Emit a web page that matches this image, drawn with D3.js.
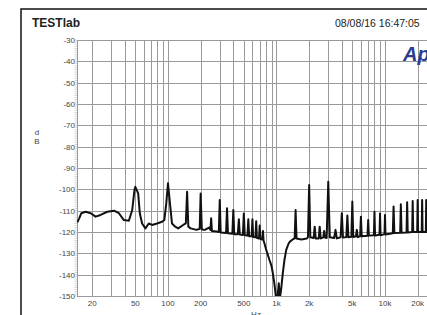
<!DOCTYPE html>
<html>
  <head>
    <meta charset="utf-8">
    <title>TESTlab FFT</title>
    <style>
      body {
        margin: 0;
        background-color: white;
        overflow: hidden;
      }
      svg text {
        font-family: "Liberation Sans", Arial, sans-serif;
      }
      .grid line {
        stroke: #9a9a9a;
        stroke-width: 1;
        shape-rendering: crispEdges;
      }
      .tick-label {
        font-size: 8px;
        fill: #444;
      }
    </style>
  </head>
  <body>
  <svg class="chart"></svg>
  <script src="https://d3js.org/d3.v7.min.js"></script>
  <script>

  // trace: frequency (Hz) and level (dB)
  var freqHz = [14.6, 15.2, 15.9, 17.4, 19.4, 21.5, 23.9, 27.6, 31.8, 35.3, 39.2, 43.6, 46.8, 49.1, 50, 53.1, 55, 57.7, 61.9, 66.5,
    71.3, 79.2, 88.1, 92.5, 96.4, 100, 105, 108.8, 116.6, 124.3, 138, 146, 150, 154, 161.5, 183.3, 196, 200, 205, 218.5,
    239, 246, 250, 254, 280, 294, 300, 306, 343, 350, 357, 392, 400, 408, 440, 450, 459, 490, 500, 510,
    540, 550, 560, 590, 600, 610, 640, 650, 660, 690, 700, 710, 740, 750, 760, 776, 800, 830, 860, 895,
    923, 955, 975, 990, 1020, 1050, 1075, 1103, 1143, 1185, 1230, 1290, 1330, 1410, 1470, 1500, 1530, 1700, 1900, 1950,
    2000, 2050, 2200, 2250, 2300, 2450, 2500, 2560, 2700, 2750, 2800, 2900, 3000, 3100, 3400, 3500, 3600, 3900, 4000, 4100,
    4400, 4500, 4600, 4900, 5000, 5100, 5400, 5500, 5600, 5900, 6000, 6100, 6900, 7000, 7100, 7900, 8000, 8100, 8900, 9000,
    9100, 9900, 10000, 10100, 11800, 12000, 12200, 13800, 14000, 14200, 15800, 16000, 16200, 17800, 18000, 18200, 19800, 20000, 20200, 21800,
    22000, 22200, 23800, 24000, 24200, 27000];

  var levelDb = [-115.5, -113.6, -111.2, -110.5, -111.2, -112.8, -112.0, -110.5, -110.0, -111.2, -114.4, -114.7, -109.7, -100.3, -98.8, -101.9, -111.2, -116.0, -118.3, -116.0,
    -116.7, -116.0, -115.2, -114.4, -106.6, -97.2, -108.1, -116.0, -117.5, -118.3, -116.7, -116.0, -101.1, -117.5, -118.3, -119.0, -118.5, -101.9, -118.8, -119.0,
    -117.9, -119.0, -113.6, -119.5, -119.8, -120.0, -105.0, -120.2, -120.5, -108.9, -120.6, -120.8, -109.7, -121.0, -121.0, -114.0, -121.2, -121.4, -111.3, -121.5,
    -121.7, -114.0, -122.0, -122.0, -114.0, -122.3, -122.5, -115.0, -122.8, -123.0, -117.0, -123.3, -123.5, -119.5, -124.0, -125.5, -128.0, -130.5, -133.0, -135.5,
    -139.0, -144.0, -148.0, -151.0, -151.0, -144.0, -151.0, -147.0, -139.4, -133.0, -128.4, -125.5, -124.5, -123.5, -123.0, -109.7, -123.0, -123.5, -123.0, -122.5,
    -98.0, -122.5, -122.8, -117.5, -123.0, -123.0, -117.5, -123.0, -122.5, -119.5, -122.6, -122.8, -96.5, -122.5, -122.8, -119.0, -123.0, -122.5, -111.2, -122.6,
    -122.4, -112.3, -122.5, -122.2, -105.7, -122.3, -122.0, -119.0, -122.4, -122.0, -112.8, -122.0, -121.8, -114.4, -121.7, -121.5, -110.5, -121.6, -121.3, -111.3,
    -121.5, -121.0, -112.0, -121.2, -120.6, -108.0, -120.5, -120.4, -107.0, -120.3, -120.2, -106.0, -120.2, -120.0, -105.5, -120.0, -120.0, -105.0, -120.0, -120.0,
    -105.0, -120.0, -120.0, -105.0, -120.0, -120.0];

  var yTicks = [-30, -40, -50, -60, -70, -80, -90, -100, -110, -120, -130, -140, -150];
  var xGrid = [20, 30, 40, 50, 60, 70, 80, 90, 100, 200, 300, 400, 500, 600, 700, 800, 900,
    1000, 2000, 3000, 4000, 5000, 6000, 7000, 8000, 9000, 10000, 20000];
  var xTicks = [20, 50, 100, 200, 500, 1000, 2000, 5000, 10000, 20000];
  var xTickLabels = ["20", "50", "100", "200", "500", "1k", "2k", "5k", "10k", "20k"];

  var width = 427, height = 315;
  var plot = {left: 77, top: 40, bottom: 296, right: 440};

  var svg = d3.select("svg")
    .attr("width", width)
    .attr("height", height);

  // x scale: log, y scale: dB
  var x = d3.scaleLog()
    .domain([14.5, 30000])
    .range([plot.left, plot.left + 108.5 * Math.log10(30000 / 14.5)]);

  var y = d3.scaleLinear()
    .domain([-150, -30])
    .range([plot.bottom, plot.top]);

  // outer frame
  svg.append("rect")
    .attr("x", 21)
    .attr("y", 9)
    .attr("width", 500)
    .attr("height", 400)
    .attr("fill", "none")
    .attr("stroke", "#111")
    .attr("stroke-width", 1.5);

  svg.append("text")
    .attr("x", 32)
    .attr("y", 27)
    .attr("font-size", "12px")
    .attr("font-weight", "bold")
    .attr("fill", "#222")
    .text("TESTlab");

  svg.append("text")
    .attr("x", 335)
    .attr("y", 27)
    .attr("font-size", "10.5px")
    .attr("fill", "#222")
    .text("08/08/16 16:47:05");

  // grid
  var grid = svg.append("g").attr("class", "grid");

  grid.selectAll("line.h")
    .data(yTicks)
    .enter().append("line")
    .attr("class", "h")
    .attr("x1", plot.left)
    .attr("x2", plot.right)
    .attr("y1", function(d) { return Math.round(y(d)) + 0.5; })
    .attr("y2", function(d) { return Math.round(y(d)) + 0.5; });

  grid.selectAll("line.v")
    .data(xGrid)
    .enter().append("line")
    .attr("class", "v")
    .attr("x1", function(d) { return Math.round(x(d)) + 0.5; })
    .attr("x2", function(d) { return Math.round(x(d)) + 0.5; })
    .attr("y1", plot.top)
    .attr("y2", plot.bottom);

  grid.append("line")
    .attr("x1", plot.left + 0.5).attr("x2", plot.left + 0.5)
    .attr("y1", plot.top).attr("y2", plot.bottom);

  // minor dB ticks on the left edge
  svg.append("g")
    .selectAll("line")
    .data(d3.range(-150, -29, 1))
    .enter().append("line")
    .attr("x1", plot.left - 2.5)
    .attr("x2", plot.left)
    .attr("y1", function(d) { return y(d); })
    .attr("y2", function(d) { return y(d); })
    .attr("stroke", "#bbb")
    .attr("stroke-width", 0.6);

  // "Ap" logo
  svg.append("text")
    .attr("x", 403)
    .attr("y", 61)
    .attr("font-size", "20px")
    .attr("font-weight", "bold")
    .attr("font-style", "italic")
    .attr("fill", "#2a3c92")
    .text("Ap");

  // axis labels
  svg.append("g")
    .selectAll("text")
    .data(yTicks)
    .enter().append("text")
    .attr("class", "tick-label")
    .attr("x", 75)
    .attr("y", function(d) { return y(d) + 3; })
    .attr("text-anchor", "end")
    .text(function(d) { return d; });

  svg.append("g")
    .selectAll("text")
    .data(xTicks)
    .enter().append("text")
    .attr("class", "tick-label")
    .attr("x", function(d) { return x(d); })
    .attr("y", 306)
    .attr("text-anchor", "middle")
    .text(function(d, i) { return xTickLabels[i]; });

  svg.append("text").attr("class", "tick-label")
    .attr("x", 37).attr("y", 135).attr("text-anchor", "middle").text("d");
  svg.append("text").attr("class", "tick-label")
    .attr("x", 37).attr("y", 144).attr("text-anchor", "middle").text("B");
  svg.append("text").attr("class", "tick-label")
    .attr("x", 256).attr("y", 317).attr("text-anchor", "middle").text("Hz");

  // trace
  svg.append("clipPath").attr("id", "clip")
    .append("rect")
    .attr("x", plot.left)
    .attr("y", plot.top)
    .attr("width", plot.right - plot.left)
    .attr("height", plot.bottom - plot.top);

  var line = d3.line()
    .x(function(d) { return x(d[0]); })
    .y(function(d) { return y(d[1]); });

  svg.append("path")
    .datum(d3.zip(freqHz, levelDb))
    .attr("clip-path", "url(#clip)")
    .attr("fill", "none")
    .attr("stroke", "#111")
    .attr("stroke-width", 2)
    .attr("stroke-linejoin", "round")
    .attr("d", line);

  </script>
  </body>
</html>
